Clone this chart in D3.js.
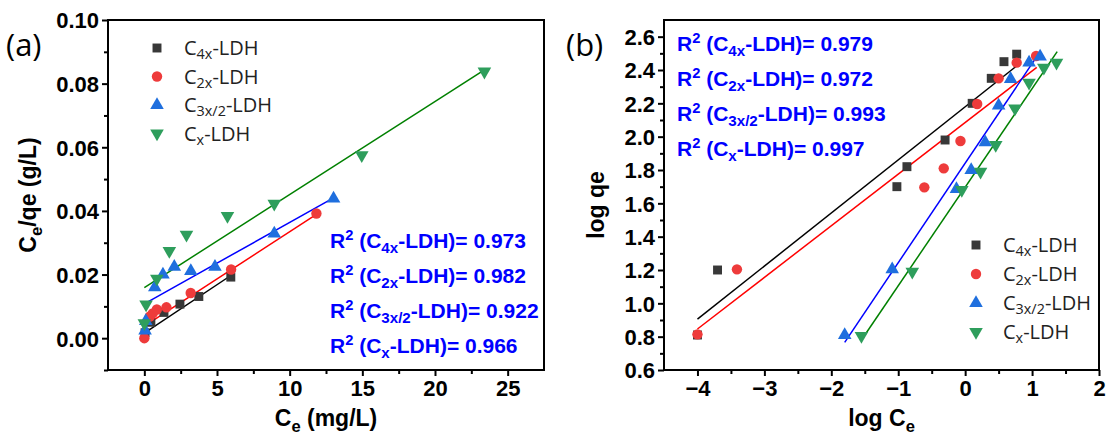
<!DOCTYPE html>
<html><head><meta charset="utf-8">
<script src="https://cdn.jsdelivr.net/npm/d3@7"></script>
<style>
html,body{margin:0;padding:0;background:#fff;}
svg{display:block;}
</style></head>
<body>
<svg id="chart" width="1110" height="437"></svg>
<script>
// ---------- DATA ----------
const seriesNames = [["C","4x","-LDH"],["C","2x","-LDH"],["C","3x/2","-LDH"],["C","x","-LDH"]];
const seriesColors = ["#383838","#ee3b3b","#1f6fde","#2e9e5c"];
const lineColors = ["#000000","#ff0000","#0000ff","#008000"];
const symbols = ["square","circle","triangle","down"];

// Panel (a): Langmuir  Ce vs Ce/qe
const a_C4x_x = [0.05, 0.45, 1.35, 2.45, 3.75, 5.95];
const a_C4x_y = [0.0017, 0.0050, 0.0081, 0.0107, 0.0131, 0.0192];
const a_C2x_x = [0.0, 0.38, 0.58, 0.86, 1.52, 3.19, 5.97, 11.84];
const a_C2x_y = [0.0, 0.0068, 0.0078, 0.0090, 0.0097, 0.0142, 0.0216, 0.0392];
const a_C3x2_x = [0.05, 0.1, 0.72, 1.28, 2.06, 3.2, 4.86, 8.94, 13.02];
const a_C3x2_y = [0.0024, 0.0054, 0.0160, 0.0200, 0.0224, 0.0211, 0.0224, 0.0329, 0.0439];
const a_Cx_x = [0.0, 0.12, 0.86, 1.72, 2.9, 5.72, 8.94, 14.96, 23.4];
const a_Cx_y = [0.0047, 0.0106, 0.0187, 0.0274, 0.0325, 0.0384, 0.0423, 0.0575, 0.0838];
// fitted line endpoints
const a_fit_x = [[0, 5.95],[0, 11.84],[0, 13.02],[0, 23.4]];
const a_fit_y = [[0.0016, 0.0197],[0.0038, 0.0389],[0.0108, 0.0441],[0.0159, 0.0843]];
const a_r2 = ["0.973","0.982","0.922","0.966"];

// Panel (b): Freundlich  log Ce vs log qe
const b_C4x_x = [-4.0, -3.70, -1.02, -0.87, -0.30, 0.105, 0.39, 0.58, 0.77];
const b_C4x_y = [0.81, 1.20, 1.70, 1.82, 1.98, 2.20, 2.35, 2.45, 2.495];
const b_C2x_x = [-4.0, -3.41, -0.61, -0.32, -0.07, 0.18, 0.50, 0.77, 1.06];
const b_C2x_y = [0.814, 1.204, 1.696, 1.81, 1.974, 2.196, 2.35, 2.444, 2.484];
const b_C3x2_x = [-1.80, -1.09, -0.13, 0.09, 0.30, 0.50, 0.68, 0.955, 1.12];
const b_C3x2_y = [0.81, 1.204, 1.686, 1.80, 1.966, 2.186, 2.346, 2.444, 2.48];
const b_Cx_x = [-1.55, -0.79, -0.05, 0.23, 0.457, 0.745, 0.955, 1.176, 1.365];
const b_Cx_y = [0.804, 1.19, 1.68, 1.79, 1.95, 2.17, 2.324, 2.414, 2.444];
const b_fit_x = [[-4, 0.80],[-4, 1.07],[-1.80, 1.12],[-1.55, 1.375]];
const b_fit_y = [[0.905, 2.434],[0.846, 2.416],[0.766, 2.51],[0.78, 2.51]];
const b_r2 = ["0.979","0.972","0.993","0.997"];

const a_xTicks = [0,5,10,15,20,25];
const a_yTicks = [0.00,0.02,0.04,0.06,0.08,0.10];
const b_xTicks = [-4,-3,-2,-1,0,1,2];
const b_yTicks = [0.6,0.8,1.0,1.2,1.4,1.6,1.8,2.0,2.2,2.4,2.6];

// ---------- DRAW ----------
const svg = d3.select("#chart");
const NUM_FONT = "'Liberation Sans', Arial, sans-serif";
const LEG_FONT = "'Open Sans', 'Noto Sans', sans-serif";

function symPath(kind, size){
  if(kind==="square") return d3.symbol(d3.symbolSquare, size)();
  if(kind==="circle") return d3.symbol(d3.symbolCircle, size)();
  return d3.symbol(d3.symbolTriangle, size*0.8)();
}
function drawSym(g, kind, x, y, color, size){
  g.append("path").attr("d", symPath(kind, size))
    .attr("transform", `translate(${x},${y})` + (kind==="down" ? " rotate(180)" : ""))
    .attr("fill", color);
}
// text with parts: [text, sub/sup flag]
function richText(g, x, y, parts, size, opts){
  const t = g.append("text").attr("x", x).attr("y", y)
    .attr("font-size", size).attr("font-family", opts.font)
    .attr("font-weight", opts.weight || "normal")
    .attr("fill", opts.fill || "#000")
    .attr("text-anchor", opts.anchor || "start");
  const subShift = opts.subShift || 0.28;
  let shift = 0;
  parts.forEach(p => {
    const [txt, mode] = p;
    let target = 0, fs = size;
    if(mode==="sub"){ target = size*subShift; fs = size*0.72; }
    if(mode==="sup"){ target = -size*0.4; fs = size*0.7; }
    t.append("tspan").attr("dy", target - shift).attr("font-size", fs).text(txt);
    shift = target;
  });
  return t;
}

function panel(cfg){
  const g = svg.append("g");
  const x = d3.scaleLinear().domain(cfg.xd).range(cfg.xr);
  const y = d3.scaleLinear().domain(cfg.yd).range(cfg.yr);
  // frame
  g.append("rect").attr("x", cfg.xr[0]).attr("y", cfg.yr[1])
    .attr("width", cfg.xr[1]-cfg.xr[0]).attr("height", cfg.yr[0]-cfg.yr[1])
    .attr("fill","none").attr("stroke","#000").attr("stroke-width",2);
  // axes
  const xAxis = d3.axisBottom(x).tickValues(cfg.xTicks).tickSize(6).tickSizeOuter(0)
    .tickFormat(cfg.xFmt);
  const gx = g.append("g").attr("transform",`translate(0,${cfg.yr[0]})`).call(xAxis);
  const xMinor = d3.axisBottom(x).tickValues(cfg.xMinor).tickSize(4).tickSizeOuter(0).tickFormat("");
  const gxm = g.append("g").attr("transform",`translate(0,${cfg.yr[0]})`).call(xMinor);
  const yAxis = d3.axisLeft(y).tickValues(cfg.yTicks).tickSize(6).tickSizeOuter(0)
    .tickFormat(cfg.yFmt);
  const gy = g.append("g").attr("transform",`translate(${cfg.xr[0]},0)`).call(yAxis);
  const yMinor = d3.axisLeft(y).tickValues(cfg.yMinor).tickSize(4).tickSizeOuter(0).tickFormat("");
  const gym = g.append("g").attr("transform",`translate(${cfg.xr[0]},0)`).call(yMinor);
  [gx,gxm,gy,gym].forEach(a => {
    a.select(".domain").remove();
    a.selectAll(".tick line").attr("stroke","#000").attr("stroke-width",2);
  });
  gx.selectAll(".tick text").attr("font-family",NUM_FONT).attr("font-weight","bold")
    .attr("font-size",22).attr("fill","#000").attr("dy","0.95em").attr("y",5);
  gy.selectAll(".tick text").attr("font-family",NUM_FONT).attr("font-weight","bold")
    .attr("font-size",22).attr("fill","#000").attr("x",-9).attr("dy","0.36em");

  // fit lines
  const line = d3.line().x(d=>x(d[0])).y(d=>y(d[1]));
  cfg.fitX.forEach((fx,i) => {
    const pts = fx.map((v,j)=>[v, cfg.fitY[i][j]]);
    g.append("path").attr("d", line(pts)).attr("fill","none")
      .attr("stroke", lineColors[i]).attr("stroke-width",1.5);
  });
  // points
  cfg.series.forEach((s,i) => {
    s[0].forEach((v,j) => drawSym(g, symbols[i], x(v), y(s[1][j]), seriesColors[i], cfg.symSize[i]));
  });
  // legend
  seriesNames.forEach((nm,i) => {
    const ly = cfg.legY + i*cfg.legDy;
    drawSym(g, symbols[i], cfg.legX, ly, seriesColors[i], cfg.symSize[i]);
    richText(g, cfg.legX+27, ly+7, [[nm[0]],[nm[1],"sub"],[nm[2]]], 20,
      {font:LEG_FONT, fill:"#222", subShift:0.22});
  });
  // R^2 text
  seriesNames.forEach((nm,i) => {
    const ty = cfg.r2Y + i*cfg.r2Dy;
    richText(g, cfg.r2X, ty, [["R"],["2","sup"],[" (C"],[nm[1],"sub"],["-LDH)= "+cfg.r2[i]]], 21,
      {font:NUM_FONT, weight:"bold", fill:"#0000ff", subShift:0.25});
  });
  // panel label
  g.append("text").attr("x", cfg.labX).attr("y", 56).attr("font-family",LEG_FONT)
    .attr("font-size",31).attr("fill","#000").text(cfg.label);
  // axis titles
  richText(g, (cfg.xr[0]+cfg.xr[1])/2, 426, cfg.xTitle, 23, {font:NUM_FONT, weight:"bold", anchor:"middle"});
  const yt = g.append("g").attr("transform",`translate(${cfg.yTitleX},${cfg.yTitleY}) rotate(-90)`);
  richText(yt, 0, 0, cfg.yTitle, 23, {font:NUM_FONT, weight:"bold", anchor:"middle"});
}

const range = (a,b,s) => d3.range(Math.round((b-a)/s)+1).map(i => +(a+i*s).toFixed(4));

panel({
  xd:[-2.5,27.5], xr:[108,544], yd:[-0.01,0.10], yr:[370,20],
  xTicks:a_xTicks, yTicks:a_yTicks,
  xMinor: range(2.5,22.5,5), yMinor: range(-0.01,0.09,0.02),
  xFmt: d3.format("d"), yFmt: d3.format(".2f"),
  fitX:a_fit_x, fitY:a_fit_y,
  series:[[a_C4x_x,a_C4x_y],[a_C2x_x,a_C2x_y],[a_C3x2_x,a_C3x2_y],[a_Cx_x,a_Cx_y]],
  symSize:[80,85,100,100],
  legX:157, legY:48, legDy:28.5,
  r2X:330, r2Y:248, r2Dy:35, r2:a_r2,
  label:"(a)", labX:6,
  xTitle:[["C"],["e","sub"],[" (mg/L)"]],
  yTitle:[["C"],["e","sub"],["/qe (g/L)"]],
  yTitleX:36, yTitleY:195
});

panel({
  xd:[-4.5,2], xr:[664,1099], yd:[0.6,2.7], yr:[370,20],
  xTicks:b_xTicks, yTicks:b_yTicks,
  xMinor: range(-3.5,1.5,1), yMinor: range(0.7,2.5,0.2),
  xFmt: d3.format("d"), yFmt: d3.format(".1f"),
  fitX:b_fit_x, fitY:b_fit_y,
  series:[[b_C4x_x,b_C4x_y],[b_C2x_x,b_C2x_y],[b_C3x2_x,b_C3x2_y],[b_Cx_x,b_Cx_y]],
  symSize:[80,85,100,100],
  legX:976, legY:245, legDy:29,
  r2X:677, r2Y:51, r2Dy:35, r2:b_r2,
  label:"(b)", labX:566,
  xTitle:[["log C"],["e","sub"]],
  yTitle:[["log qe"]],
  yTitleX:604, yTitleY:205
});
</script>
</body></html>
